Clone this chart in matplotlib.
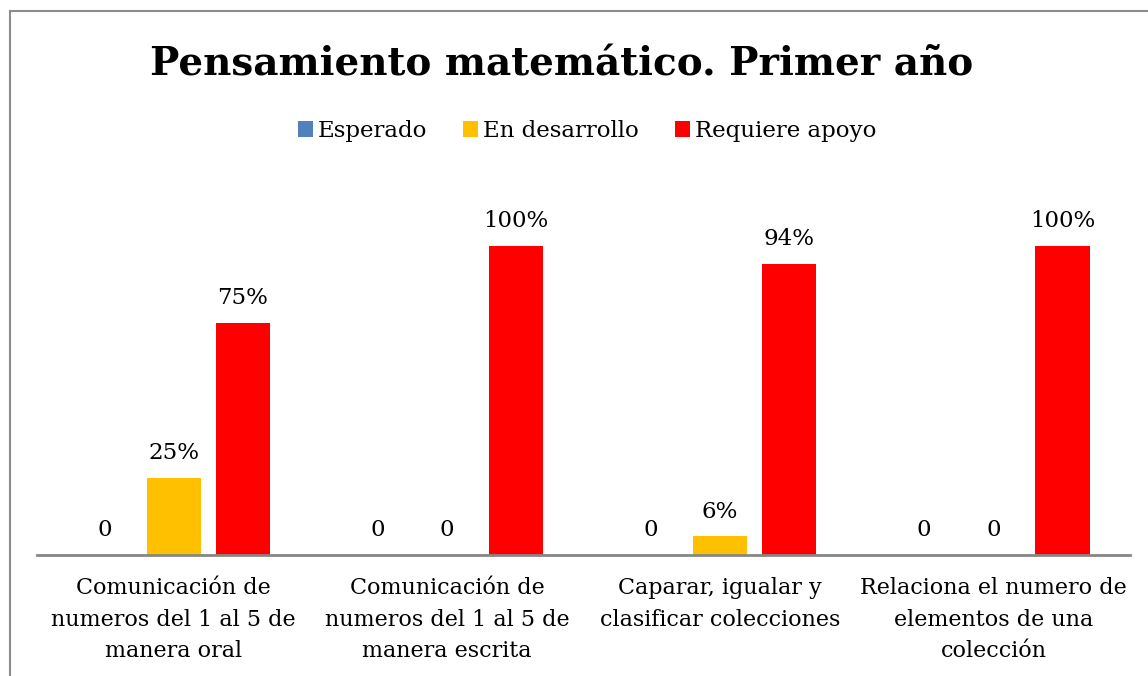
# ==========================================
# PENSAMIENTO MATEMATICO - BARRAS AGRUPADAS
# ==========================================

import numpy as np
import matplotlib
matplotlib.use("Agg")
import matplotlib.pyplot as plt
from matplotlib.patches import Patch
from matplotlib.lines import Line2D


# ==========================================
# DATOS
# ==========================================

categorias = [
    "Comunicación de\nnumeros del 1 al 5 de\nmanera oral",
    "Comunicación de\nnumeros del 1 al 5 de\nmanera escrita",
    "Caparar, igualar y\nclasificar colecciones",
    "Relaciona el numero de\nelementos de una\ncolección",
]

series = ["Esperado", "En desarrollo", "Requiere apoyo"]

esperado = [0, 0, 0, 0]
en_desarrollo = [0.25, 0, 0.06, 0]
requiere_apoyo = [0.75, 1.00, 0.94, 1.00]

colores = ["#4F81BD", "#FFC000", "#FF0000"]

titulo = "Pensamiento matemático. Primer año"


# ==========================================
# GRAFICO
# ==========================================

def etiqueta(v):
    # los ceros se muestran sin porcentaje
    if v == 0:
        return "0"
    return f"{v * 100:.0f}%"


def grafico():

    plt.rcParams["font.family"] = ["DejaVu Serif"]

    fig = plt.figure(figsize=(11.48, 6.76), dpi=100)

    # marco gris del area del grafico (recortado a la derecha y abajo)
    fig.add_artist(Line2D([10 / 1148, 10 / 1148], [0, 1 - 11 / 676],
                          color="#8C8C8C", lw=1.5, transform=fig.transFigure))
    fig.add_artist(Line2D([10 / 1148, 1], [1 - 11 / 676, 1 - 11 / 676],
                          color="#8C8C8C", lw=1.5, transform=fig.transFigure))

    ax = fig.add_axes([37 / 1148, 1 - 555 / 676, 1093 / 1148, 371 / 676])

    x = np.arange(len(categorias))
    ancho = 0.198
    paso = 0.253

    valores = [esperado, en_desarrollo, requiere_apoyo]

    for i, (nombre, datos, color) in enumerate(zip(series, valores, colores)):
        pos = x + (i - 1) * paso
        ax.bar(pos, datos, width=ancho, color=color, label=nombre, zorder=2)
        for p, v in zip(pos, datos):
            ax.text(p, v + 0.045, etiqueta(v), ha="center", va="bottom",
                    fontsize=16.5, color="black")

    ax.set_xlim(-0.5, len(categorias) - 0.5)
    ax.set_ylim(0, 1.2)

    ax.set_xticks(x)
    ax.set_xticklabels(categorias, fontsize=16, linespacing=1.55)
    ax.tick_params(axis="x", length=0, pad=16)
    ax.set_yticks([])

    for lado in ["left", "right", "top"]:
        ax.spines[lado].set_visible(False)
    ax.spines["bottom"].set_color("#868686")
    ax.spines["bottom"].set_linewidth(2)

    fig.text(562 / 1148, 1 - 64 / 676, titulo, ha="center", va="center",
             fontsize=28, fontweight="bold")

    manijas = [Patch(facecolor=c, edgecolor="none") for c in colores]
    fig.legend(manijas, series, loc="center", ncol=3,
               bbox_to_anchor=(587 / 1148, 1 - 131 / 676),
               frameon=False, fontsize=16.5, handlelength=0.65,
               handleheight=0.65, handletextpad=0.2, columnspacing=1.6)

    fig.savefig("out.png", dpi=100)


if __name__ == "__main__":
    grafico()
